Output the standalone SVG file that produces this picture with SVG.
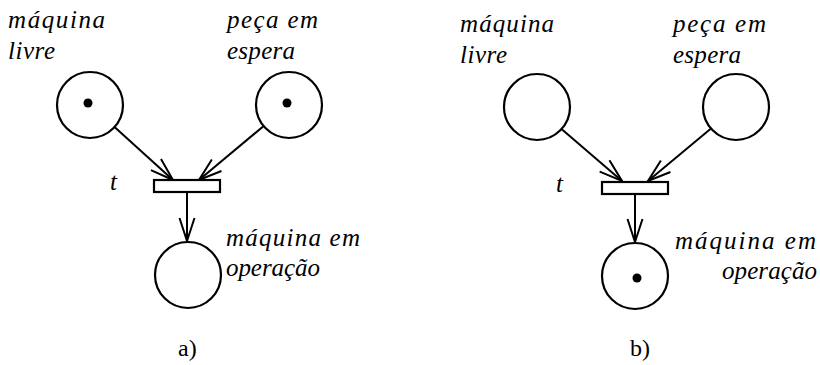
<svg xmlns="http://www.w3.org/2000/svg" width="820" height="365" viewBox="0 0 820 365">
<style>
.place{fill:#fff;stroke:#000;stroke-width:2.2}
.trans{fill:#fff;stroke:#000;stroke-width:2.2}
.tok{fill:#000}
.arc{fill:none;stroke:#000;stroke-width:2;marker-end:url(#ah)}
text{fill:#000}
</style>
<defs>
<marker id="ah" markerUnits="userSpaceOnUse" viewBox="-25 -10 27 20" refX="0" refY="0" markerWidth="27" markerHeight="20" orient="auto">
<path d="M-23,-7.5 L0,0 L-23,7.5" fill="none" stroke="#000" stroke-width="2"/>
</marker>
</defs>
<g id="connectors">
<line class="arc" x1="114.5" y1="127" x2="173" y2="180"/>
<line class="arc" x1="263.7" y1="126" x2="199" y2="180"/>
<line class="arc" x1="187" y1="193" x2="187" y2="241"/>
<line class="arc" x1="561.5" y1="129" x2="622" y2="181"/>
<line class="arc" x1="711" y1="128.5" x2="648" y2="181"/>
<line class="arc" x1="635" y1="195" x2="635" y2="242"/>
</g>
<g font-family="Liberation Serif, serif" font-style="italic" font-size="25">
<g id="a-maquina-livre">
<circle class="place" cx="90" cy="105" r="33"/>
<circle class="tok" cx="88" cy="103" r="4.5"/>
<text x="8" y="28" textLength="97">máquina</text>
<text x="8" y="59" textLength="47">livre</text>
</g>
<g id="a-peca-em-espera">
<circle class="place" cx="289" cy="105" r="33"/>
<circle class="tok" cx="287" cy="103" r="4.5"/>
<text x="227" y="28" textLength="91">peça em</text>
<text x="227" y="59" textLength="68">espera</text>
</g>
<g id="a-t">
<rect class="trans" x="154" y="180" width="66" height="12"/>
<text x="110" y="190">t</text>
</g>
<g id="a-maquina-em-operacao">
<circle class="place" cx="188" cy="275" r="33"/>
<text x="226" y="246" textLength="134">máquina em</text>
<text x="226" y="276" textLength="94">operação</text>
</g>
<g id="b-maquina-livre">
<circle class="place" cx="537" cy="107" r="33"/>
<text x="460" y="32" textLength="94">máquina</text>
<text x="460" y="63" textLength="47">livre</text>
</g>
<g id="b-peca-em-espera">
<circle class="place" cx="736" cy="107" r="33"/>
<text x="673" y="32" textLength="93">peça em</text>
<text x="673" y="63" textLength="68">espera</text>
</g>
<g id="b-t">
<rect class="trans" x="602" y="182" width="66" height="12"/>
<text x="556" y="192">t</text>
</g>
<g id="b-maquina-em-operacao">
<circle class="place" cx="635" cy="276" r="33"/>
<circle class="tok" cx="637" cy="278" r="4.5"/>
<text x="675" y="249" textLength="141">máquina em</text>
<text x="722" y="279" textLength="95">operação</text>
</g>
</g>
<g font-family="Liberation Serif, serif" font-size="24">
<text x="178" y="356">a)</text>
<text x="630" y="356">b)</text>
</g>
</svg>
